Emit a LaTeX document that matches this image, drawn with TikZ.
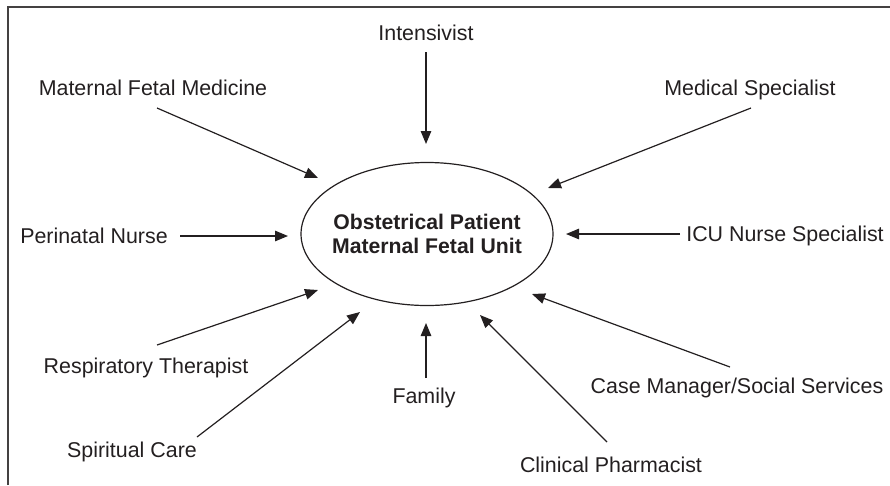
\documentclass[tikz,border=0pt]{standalone}
\usepackage{fontspec}
\setmainfont{Liberation Sans}
\usetikzlibrary{arrows.meta,shapes.geometric}
\definecolor{ink}{HTML}{231F20}
\begin{document}
\begin{tikzpicture}[x=1pt,y=-1pt,
  lbl/.style={font=\fontsize{21.4}{24}\selectfont, text=ink, inner sep=0pt},
  feed/.style={draw=ink, line width=1.2pt, -{Triangle[length=13pt,width=10.5pt]}},
  frame/.style={draw=ink!85, line width=1.6pt}]
\useasboundingbox (0,0) rectangle (890,485);
\draw[frame] (8,485) -- (8,7) -- (890,7);
\node[ellipse, draw=ink, line width=1.2pt, minimum width=252pt, minimum height=143pt,
  inner sep=0pt] (unit) at (427,234) {};
\node[align=center, font=\fontsize{21.2}{24.5}\selectfont\bfseries, text=ink, inner sep=0pt]
  (unittext) at (unit.center) {Obstetrical Patient\\Maternal Fetal Unit};
\node[lbl] (int) at (426,33) {Intensivist};
\node[lbl] (mfm) at (153,88) {Maternal Fetal Medicine};
\node[lbl] (med) at (750,90) {Medical Specialist};
\node[lbl] (peri) at (94,236) {Perinatal Nurse};
\node[lbl] (icu) at (785,236) {ICU Nurse Specialist};
\node[lbl] (resp) at (146,368) {Respiratory Therapist};
\node[lbl] (case) at (737,388) {Case Manager/Social Services};
\node[lbl] (fam) at (424,398) {Family};
\node[lbl] (spir) at (132,452) {Spiritual Care};
\node[lbl] (pharm) at (611,465) {Clinical Pharmacist};
% start and tip coordinates
\coordinate (s1) at (426,52);  \coordinate (t1) at (426,144);
\coordinate (s2) at (157,108); \coordinate (t2) at (318,178);
\coordinate (s3) at (751,108); \coordinate (t3) at (548,188);
\coordinate (s4) at (180,236); \coordinate (t4) at (288,236);
\coordinate (s5) at (680,234); \coordinate (t5) at (566,234);
\coordinate (s6) at (157,345); \coordinate (t6) at (318,290);
\coordinate (s7) at (730,367); \coordinate (t7) at (532,294);
\coordinate (s8) at (197,437); \coordinate (t8) at (360,312);
\coordinate (s9) at (426,378); \coordinate (t9) at (426,323);
\coordinate (s10) at (607,442); \coordinate (t10) at (480,315);
\foreach \i in {1,...,10} {\draw[feed] (s\i) -- (t\i);}
\end{tikzpicture}
\end{document}
